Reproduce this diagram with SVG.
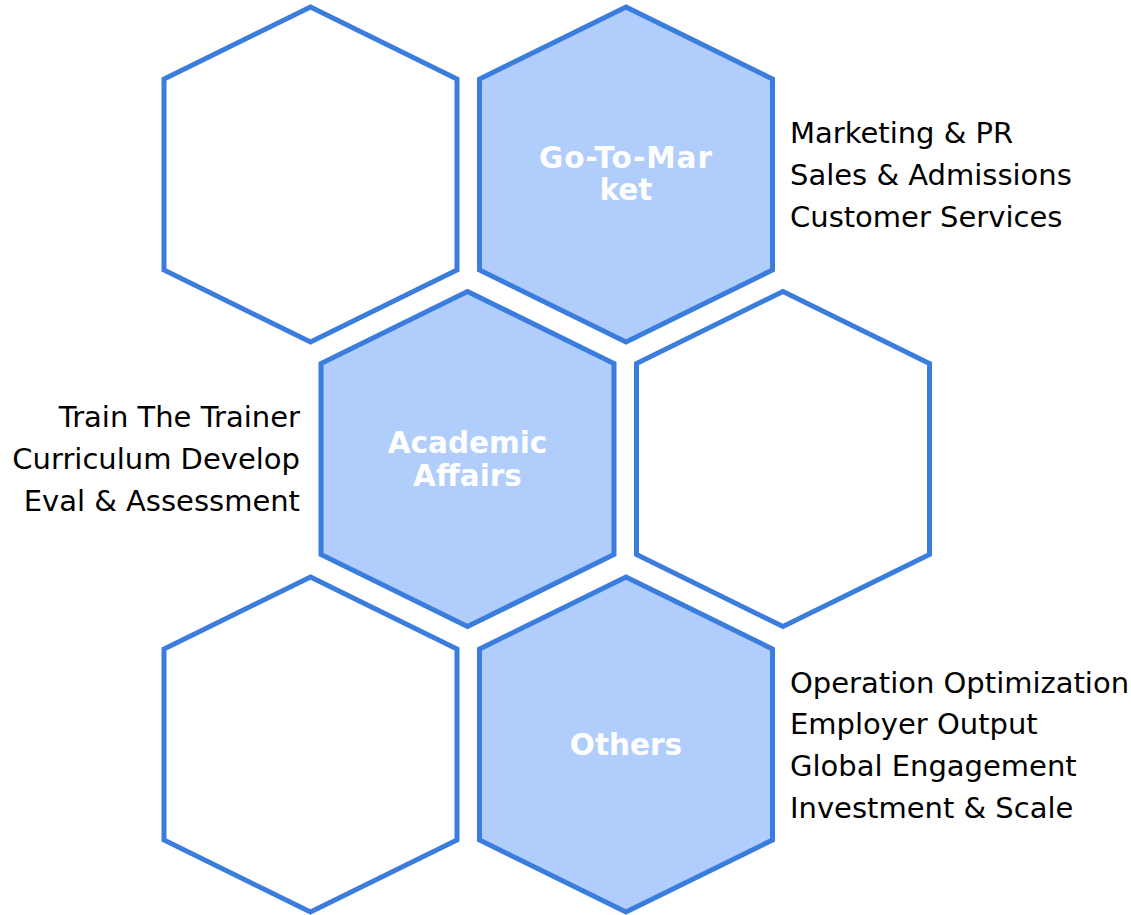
<svg xmlns="http://www.w3.org/2000/svg" width="1131" height="915" viewBox="0 0 1131 915">
<defs>
<polygon id="hex" points="0,-167.5 146.5,-95.5 146.5,95.5 0,167.5 -146.5,95.5 -146.5,-95.5"/>
</defs>
<style>
.empty{fill:#ffffff;stroke:#3b7ddd;stroke-width:5;stroke-linejoin:miter}
.full{fill:#b0cdfb;stroke:#3b7ddd;stroke-width:5;stroke-linejoin:miter}
.lbl{font-family:"DejaVu Sans",Verdana,sans-serif;font-weight:bold;font-size:29.5px;fill:#ffffff;text-anchor:middle}
.txt{font-family:"DejaVu Sans",Verdana,sans-serif;font-size:29px;fill:#000000}
.r{text-anchor:end}
</style>
<rect width="1131" height="915" fill="#ffffff"/>
<g id="hex1"><use href="#hex" x="310.5" y="174.5" class="empty"/></g>
<g id="hex2"><use href="#hex" x="626" y="174.5" class="full"/>
<text class="lbl" x="626" y="168" letter-spacing="1">Go-To-Mar</text><text class="lbl" x="626" y="200">ket</text></g>
<g id="hex3"><use href="#hex" x="467.5" y="459" class="full"/>
<text class="lbl" x="467.5" y="453">Academic</text><text class="lbl" x="467.5" y="486">Affairs</text></g>
<g id="hex4"><use href="#hex" x="783" y="459" class="empty"/></g>
<g id="hex5"><use href="#hex" x="310.5" y="744.5" class="empty"/></g>
<g id="hex6"><use href="#hex" x="626" y="744.5" class="full"/>
<text class="lbl" x="626" y="755">Others</text></g>
<g id="gtm-list"><text class="txt" x="790" y="143">Marketing &amp; PR</text><text class="txt" x="790" y="185">Sales &amp; Admissions</text><text class="txt" x="790" y="227">Customer Services</text></g>
<g id="aa-list"><text class="txt r" x="300" y="427">Train The Trainer</text><text class="txt r" x="300" y="469">Curriculum Develop</text><text class="txt r" x="300" y="511">Eval &amp; Assessment</text></g>
<g id="oth-list"><text class="txt" x="790" y="693">Operation Optimization</text><text class="txt" x="790" y="734">Employer Output</text><text class="txt" x="790" y="776">Global Engagement</text><text class="txt" x="790" y="818">Investment &amp; Scale</text></g>
<g id="connectors"/>
</svg>
